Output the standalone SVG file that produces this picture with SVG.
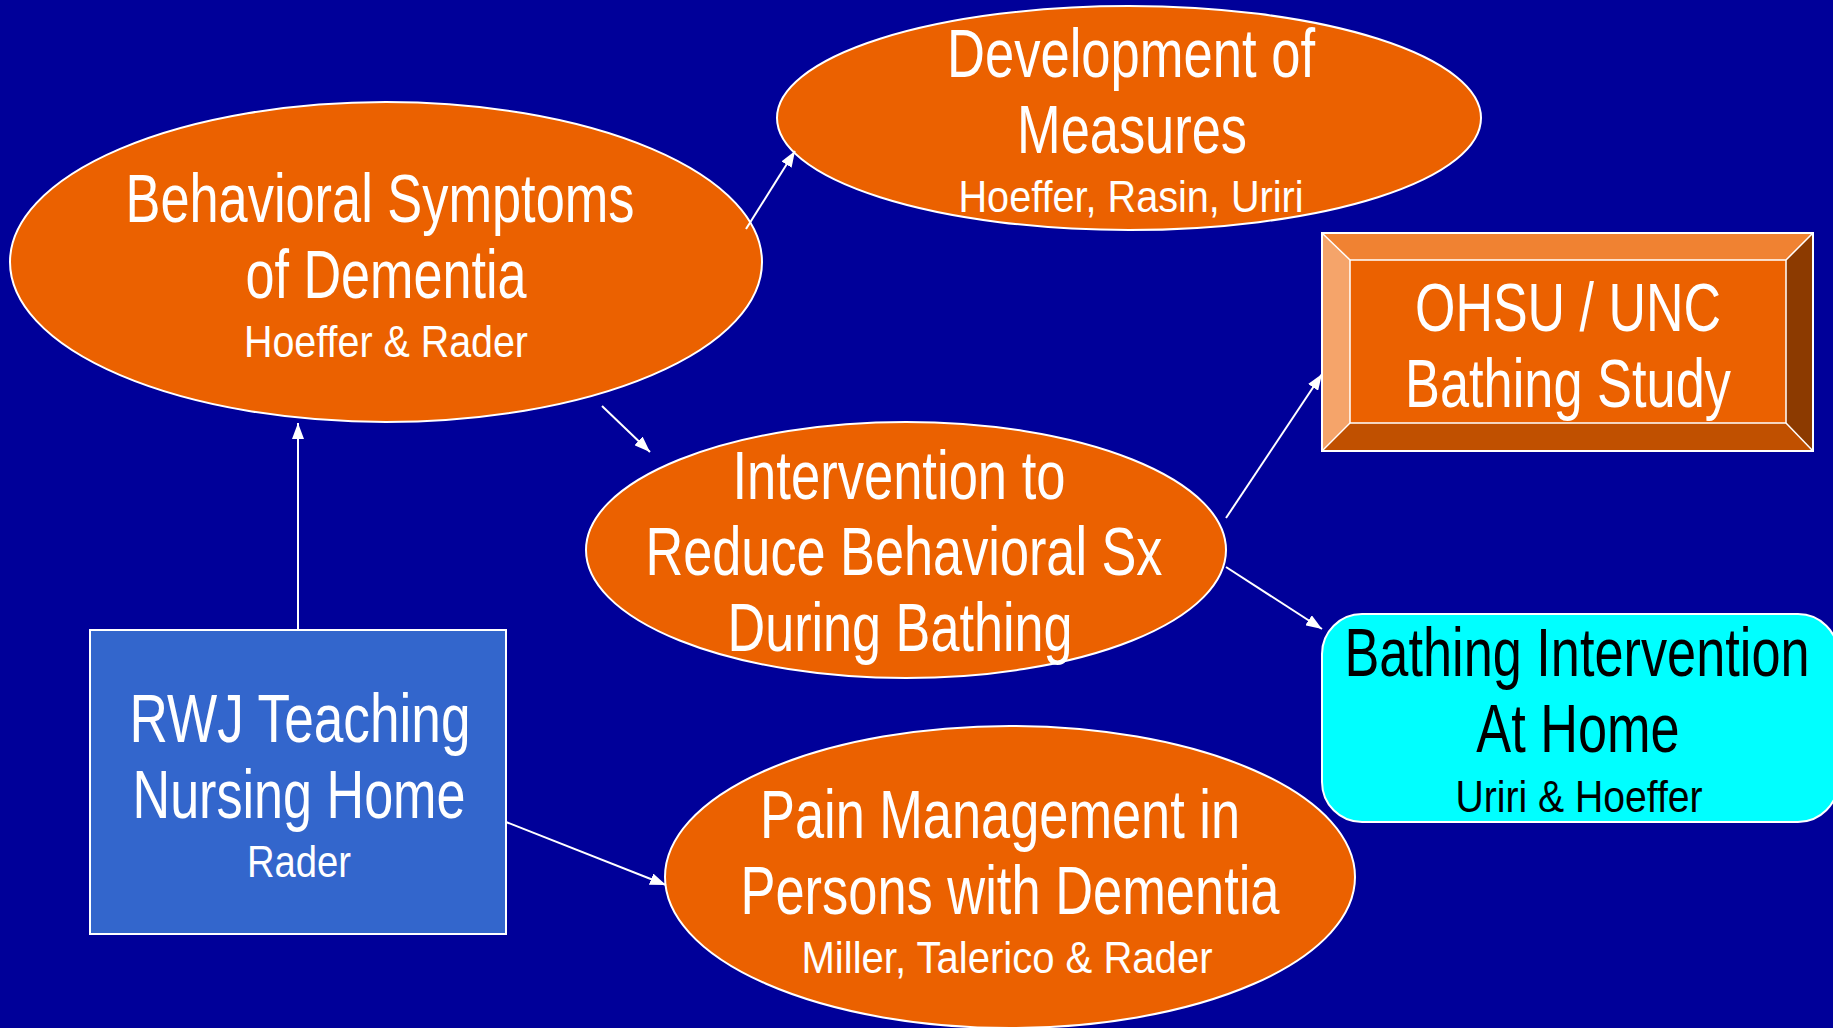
<svg xmlns="http://www.w3.org/2000/svg" width="1833" height="1028" viewBox="0 0 1833 1028">
<defs>
<style>
.t{font-family:"Liberation Sans",Arial,sans-serif;fill:#fff;text-anchor:middle}
.big{font-size:68px}
.sub{font-size:45px}
.blk{fill:#000}
.node{stroke:#fff;stroke-width:2}
.ell{fill:#EB6100}
.con line{stroke:#fff;stroke-width:2}
</style>
<marker id="ah" viewBox="0 0 16 12" refX="16" refY="6" markerWidth="16" markerHeight="12" markerUnits="userSpaceOnUse" orient="auto">
<path d="M0,0 L16,6 L0,12 z" fill="#fff"/>
</marker>
</defs>
<rect width="1833" height="1028" fill="#000099"/>

<g id="behavioral">
<ellipse class="node ell" cx="386" cy="262" rx="376" ry="160"/>
<text class="t big" x="380" y="222" textLength="509" lengthAdjust="spacingAndGlyphs">Behavioral Symptoms</text>
<text class="t big" x="386" y="298" textLength="281" lengthAdjust="spacingAndGlyphs">of Dementia</text>
<text class="t sub" x="386" y="357" textLength="284" lengthAdjust="spacingAndGlyphs">Hoeffer &amp; Rader</text>
</g>

<g id="development">
<ellipse class="node ell" cx="1129" cy="118" rx="352" ry="112"/>
<text class="t big" x="1131" y="77" textLength="368" lengthAdjust="spacingAndGlyphs">Development of</text>
<text class="t big" x="1132" y="153" textLength="230" lengthAdjust="spacingAndGlyphs">Measures</text>
<text class="t sub" x="1131" y="212" textLength="345" lengthAdjust="spacingAndGlyphs">Hoeffer, Rasin, Uriri</text>
</g>

<g id="ohsu">
<rect x="1322" y="233" width="491" height="218" fill="#EB6100"/>
<polygon points="1322,233 1813,233 1786,260 1350,260" fill="#F08232"/>
<polygon points="1322,233 1350,260 1350,423 1322,451" fill="#F5A46A"/>
<polygon points="1813,233 1813,451 1786,423 1786,260" fill="#8C3A00"/>
<polygon points="1322,451 1350,423 1786,423 1813,451" fill="#C05000"/>
<rect x="1322" y="233" width="491" height="218" fill="none" stroke="#fff" stroke-width="2"/>
<rect x="1350" y="260" width="436" height="163" fill="none" stroke="#fff" stroke-width="1.5"/>
<g stroke="#fff" stroke-width="1.5">
<line x1="1322" y1="233" x2="1350" y2="260"/>
<line x1="1813" y1="233" x2="1786" y2="260"/>
<line x1="1322" y1="451" x2="1350" y2="423"/>
<line x1="1813" y1="451" x2="1786" y2="423"/>
</g>
<text class="t big" x="1568" y="331" textLength="306" lengthAdjust="spacingAndGlyphs">OHSU / UNC</text>
<text class="t big" x="1568" y="407" textLength="326" lengthAdjust="spacingAndGlyphs">Bathing Study</text>
</g>

<g id="intervention">
<ellipse class="node ell" cx="906" cy="550" rx="320" ry="128"/>
<text class="t big" x="899" y="499" textLength="333" lengthAdjust="spacingAndGlyphs">Intervention to</text>
<text class="t big" x="904" y="575" textLength="517" lengthAdjust="spacingAndGlyphs">Reduce Behavioral Sx</text>
<text class="t big" x="900" y="651" textLength="345" lengthAdjust="spacingAndGlyphs">During Bathing</text>
</g>

<g id="bathing-home">
<rect class="node" x="1322" y="614" width="516" height="208" rx="40" ry="40" fill="#00FFFF"/>
<text class="t big blk" transform="translate(1577,676) scale(0.77,1)" x="0" y="0" textLength="604" lengthAdjust="spacingAndGlyphs">Bathing Intervention</text>
<text class="t big blk" transform="translate(1578,752) scale(0.77,1)" x="0" y="0" textLength="264" lengthAdjust="spacingAndGlyphs">At Home</text>
<text class="t sub blk" transform="translate(1579,812) scale(0.8,1)" x="0" y="0" textLength="309" lengthAdjust="spacingAndGlyphs">Uriri &amp; Hoeffer</text>
</g>

<g id="rwj">
<rect class="node" x="90" y="630" width="416" height="304" fill="#3366CC"/>
<text class="t big" x="300" y="742" textLength="341" lengthAdjust="spacingAndGlyphs">RWJ Teaching</text>
<text class="t big" x="299" y="818" textLength="333" lengthAdjust="spacingAndGlyphs">Nursing Home</text>
<text class="t sub" x="299" y="877" textLength="104" lengthAdjust="spacingAndGlyphs">Rader</text>
</g>

<g id="pain">
<ellipse class="node ell" cx="1010" cy="877" rx="345" ry="151"/>
<text class="t big" x="1000" y="838" textLength="480" lengthAdjust="spacingAndGlyphs">Pain Management in</text>
<text class="t big" x="1010" y="914" textLength="539" lengthAdjust="spacingAndGlyphs">Persons with Dementia</text>
<text class="t sub" x="1007" y="973" textLength="411" lengthAdjust="spacingAndGlyphs">Miller, Talerico &amp; Rader</text>
</g>

<g id="connectors" class="con">
<line x1="298" y1="630" x2="298" y2="423" marker-end="url(#ah)"/>
<line x1="506" y1="822" x2="666" y2="885" marker-end="url(#ah)"/>
<line x1="746" y1="229" x2="795" y2="151" marker-end="url(#ah)"/>
<line x1="602" y1="406" x2="650" y2="452" marker-end="url(#ah)"/>
<line x1="1226" y1="518" x2="1322" y2="374" marker-end="url(#ah)"/>
<line x1="1226" y1="567" x2="1322" y2="629" marker-end="url(#ah)"/>
</g>
</svg>
